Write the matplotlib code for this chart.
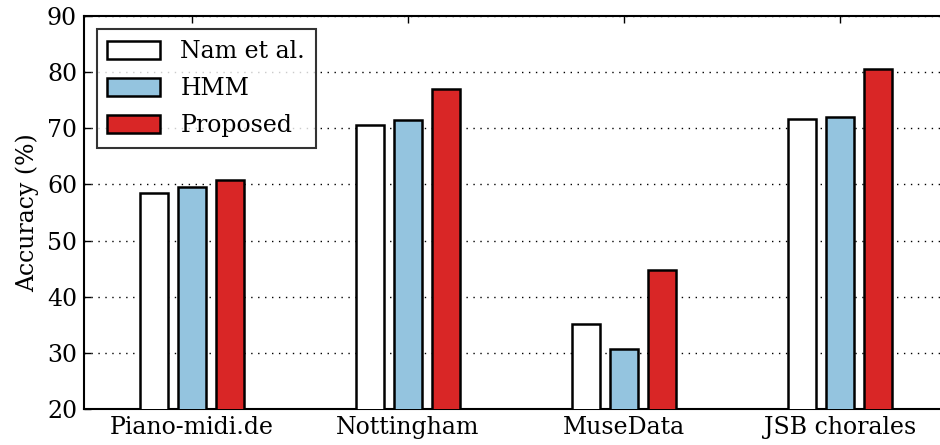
import numpy as np
import matplotlib
matplotlib.use("Agg")
import matplotlib.pyplot as plt

# Dados
datasets = ["Piano-midi.de", "Nottingham", "MuseData", "JSB chorales"]
nam = [58.4, 70.6, 35.1, 71.6]
hmm = [59.5, 71.4, 30.6, 71.95]
proposto = [60.7, 77.05, 44.8, 80.6]

plt.rcParams["font.family"] = ["DejaVu Serif"]
plt.rcParams["font.size"] = 17

fig = plt.figure(figsize=(9.4, 4.45), dpi=100)
ax = fig.add_axes([0.0894, 0.081, 0.919, 0.883])

x = np.arange(len(datasets))
w = 0.133
passo = 0.176
kw = dict(edgecolor="black", linewidth=1.8, width=w, zorder=3)
ax.bar(x - passo, nam, color="white", label="Nam et al.", **kw)
ax.bar(x, hmm, color="#94c4df", label="HMM", **kw)
ax.bar(x + passo, proposto, color="#d92626", label="Proposed", **kw)

ax.set_xlim(-0.5, 3.5)
ax.set_ylim(20, 90)
ax.set_xticks(x)
ax.set_xticklabels(datasets)
ax.set_yticks(range(20, 91, 10))
ax.set_ylabel("Accuracy (%)", labelpad=6)
ax.tick_params(direction="in", top=True, right=True, length=5, width=1, pad=5)
ax.yaxis.grid(True, linestyle=(0, (1, 4)), color="black", linewidth=1.0, zorder=0)
ax.set_axisbelow(True)
for s in ax.spines.values():
    s.set_linewidth(1.5)

leg = ax.legend(loc="upper left", fancybox=False, edgecolor="black",
                handlelength=2.25, handleheight=0.8, borderpad=0.45,
                labelspacing=0.6, handletextpad=0.85, borderaxespad=0.4,
                bbox_to_anchor=(0.0035, 0.99))
leg.get_frame().set_linewidth(1.5)

fig.savefig("out.png", dpi=100)
